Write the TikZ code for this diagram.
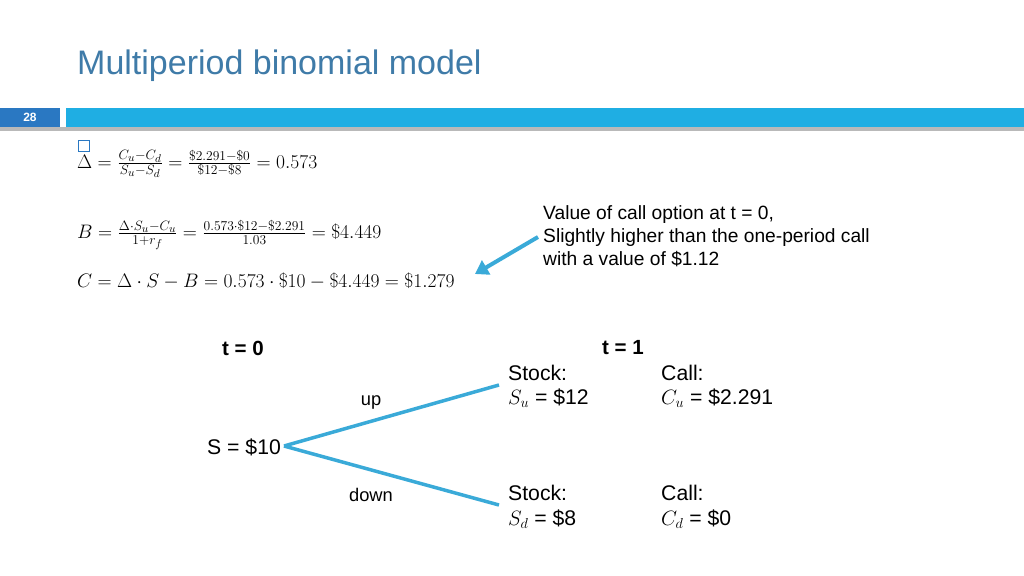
\documentclass[tikz,border=0pt]{standalone}
\usepackage{graphicx}
\usepackage{fontspec}
\setmainfont{Liberation Sans}
\usetikzlibrary{arrows.meta}
\definecolor{titleblue}{HTML}{3F7BA8}
\definecolor{barblue}{HTML}{1FAEE3}
\definecolor{numblue}{HTML}{2A78C2}
\definecolor{linecyan}{HTML}{3AAAD8}
\newcommand{\eqbig}[1]{\scalebox{1.13}{$#1$}}
\begin{document}
\begin{tikzpicture}[x=1pt,y=-1pt,
  txt/.style={inner sep=0pt,font=\fontsize{21.2}{24}\selectfont},
  note/.style={inner sep=0pt,font=\fontsize{19.2}{23}\selectfont},
  lbl/.style={inner sep=0pt,font=\fontsize{18.3}{21}\selectfont},
  hdr/.style={inner sep=0pt,font=\bfseries\fontsize{20.5}{23}\selectfont},
  eq/.style={inner sep=0pt,anchor=base west,font=\fontsize{17.28}{21}\selectfont},
  branch/.style={draw=linecyan,line width=3.5pt}]
\useasboundingbox (0,0) rectangle (1024,575);
% title
\node[anchor=base west,inner sep=0pt,text=titleblue,font=\fontsize{34}{38}\selectfont] (title) at (77,75) {Multiperiod binomial model};
% header bar
\fill[gray!55] (0,127) rectangle (1024,131);
\fill[numblue] (0,108) rectangle (60,127);
\node[text=white,font=\bfseries\fontsize{12}{14}\selectfont,inner sep=0pt] (num) at (30,117) {28};
\fill[barblue] (66,108) rectangle (1024,127);
% checkbox
\node[draw=numblue,line width=0.9pt,minimum size=11pt,inner sep=0pt] (box) at (84,146) {};
% equations
\node[eq] (e1) at (77,168) {\eqbig{\Delta=\frac{C_u-C_d}{S_u-S_d}=\frac{\$2.291-\$0}{\$12-\$8}=0.573}};
\node[eq] (e2) at (77,238) {\eqbig{B=\frac{\Delta\cdot S_u-C_u}{1+r_f}=\frac{0.573\cdot\$12-\$2.291}{1.03}=\$4.449}};
\node[eq] (e3) at (77,287) {\eqbig{C=\Delta\cdot S-B=0.573\cdot\$10-\$4.449=\$1.279}};
% note
\node[note,anchor=north west,align=left] (note) at (543,205) {Value of call option at t = 0,\\Slightly higher than the one-period call\\with a value of \$1.12};
\coordinate (arrS) at (538,237);
\coordinate (arrE) at (475,274);
\draw[draw=linecyan,line width=4pt,-{Triangle[length=13pt,width=16pt]}] (arrS) -- (arrE);
% tree
\node[hdr] (t0) at (243,348) {t = 0};
\node[hdr] (t1) at (623,348) {t = 1};
\node[txt,anchor=west] (s0) at (207,447) {S = \$10};
\coordinate (root) at (284,446);
\coordinate (upE) at (499,385);
\coordinate (dnE) at (499,505);
\draw[branch] (root) -- (upE);
\draw[branch] (root) -- (dnE);
\node[lbl] (up) at (371,402) {up};
\node[lbl] (down) at (371,495) {down};
\node[txt,anchor=west] (su1) at (508,373) {Stock:};
\node[txt,anchor=west] (su2) at (508,398) {$S_u$ = \$12};
\node[txt,anchor=west] (cu1) at (661,373) {Call:};
\node[txt,anchor=west] (cu2) at (661,398) {$C_u$ = \$2.291};
\node[txt,anchor=west] (sd1) at (508,493) {Stock:};
\node[txt,anchor=west] (sd2) at (508,519) {$S_d$ = \$8};
\node[txt,anchor=west] (cd1) at (661,493) {Call:};
\node[txt,anchor=west] (cd2) at (661,519) {$C_d$ = \$0};
\end{tikzpicture}
\end{document}
